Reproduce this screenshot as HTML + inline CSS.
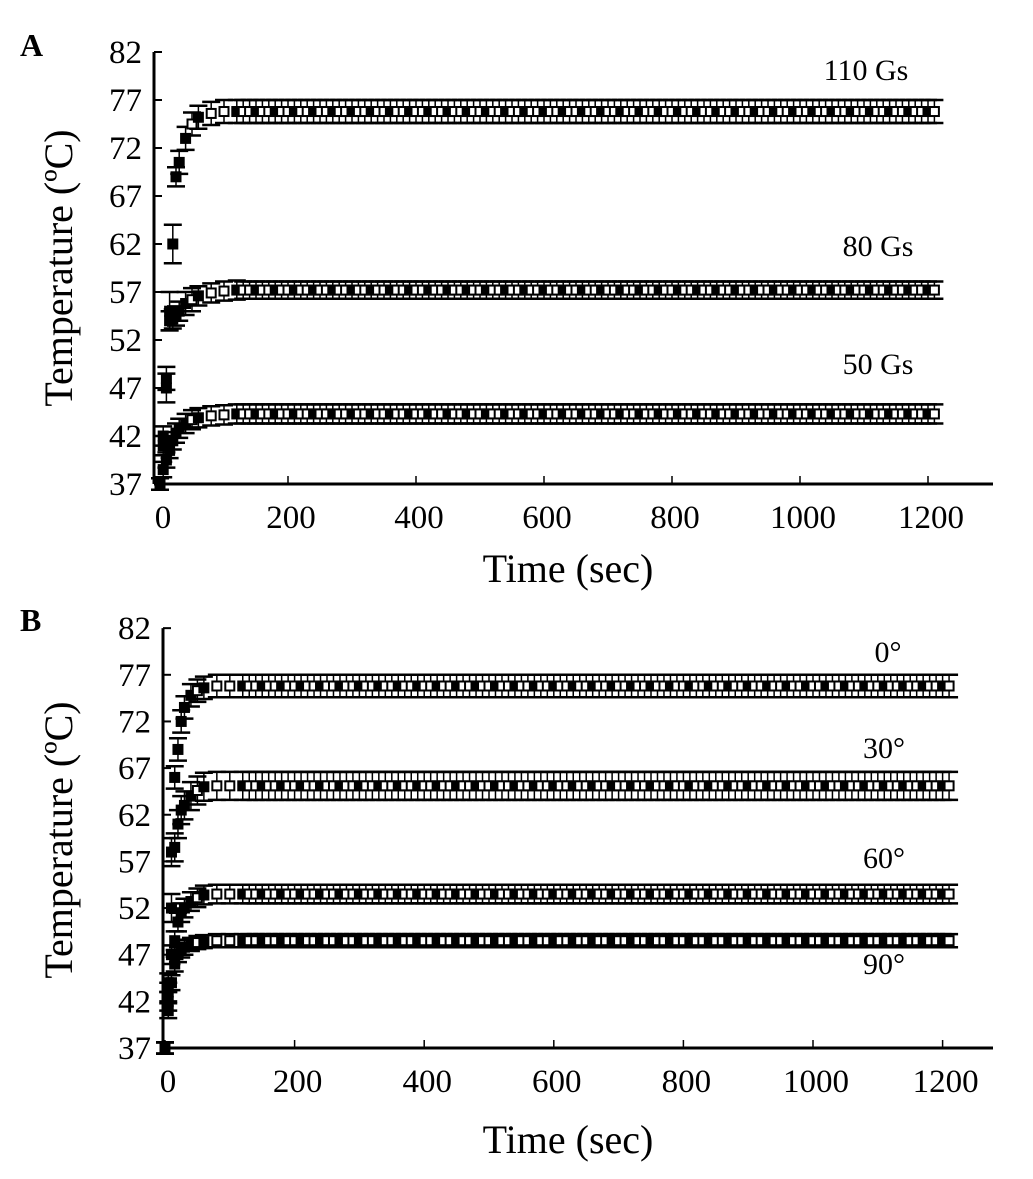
<!DOCTYPE html>
<html><head><meta charset="utf-8"><style>
body{margin:0;background:#fff;}
svg{display:block;font-family:"Liberation Serif",serif;}
</style></head><body>
<svg id="s" width="1033" height="1179" viewBox="0 0 1033 1179"></svg>
<script>
const NS="http://www.w3.org/2000/svg";
const svg=document.getElementById('s');
const T=[0,5,10,15,20,25,30,40,50,60,80,100,120];
for(let t=130;t<=1210;t+=10)T.push(t);
const P=T.length-13;
const yTicks=[37,42,47,52,57,62,67,72,77,82];
const xTicks=[0,200,400,600,800,1000,1200];
// Panel A
const a110=[37,41,47,55,62,69,70.5,73,74.5,75.2,75.6,75.8,75.8,...Array(P).fill(75.8)];
const a110e=[0.6,1,1.5,2,2,1,1.2,1.2,1.2,1.2,1.2,1.2,1.2,...Array(P).fill(1.2)];
const a80=[37,42,48,54,54.2,54.5,55,55.8,56.2,56.6,56.9,57.1,57.2,...Array(P).fill(57.2)];
const a80e=[0.6,1,1.2,1,1,1,1,1.2,1.2,1,1,1,1,...Array(P).fill(0.9)];
const a50=[37,38.5,39.5,40.5,41.5,42.3,42.8,43.3,43.7,43.9,44.1,44.2,44.3,...Array(P).fill(44.3)];
const a50e=[0.6,0.8,0.8,0.8,0.9,1,1,1,1,1,1,1,1,...Array(P).fill(1)];
// Panel B
const b0=[37,44,58,66,69,72,73.5,74.8,75.3,75.6,75.8,75.8,75.8,...Array(P).fill(75.8)];
const b0e=[0.6,1,1.5,1.2,1.2,1.2,1.2,1.2,1.2,1.2,1.2,1.2,1.2,...Array(P).fill(1.2)];
const b30=[37,43,52,58.5,61,62.5,63,64,64.6,65,65.1,65.1,65.1,...Array(P).fill(65.1)];
const b30e=[0.6,1,1.5,1.5,1.5,1.5,1.5,1.5,1.5,1.5,1.5,1.5,1.5,...Array(P).fill(1.5)];
const b60=[37,42,47,48.5,50.5,51.5,52,52.7,53.1,53.4,53.5,53.5,53.5,...Array(P).fill(53.5)];
const b60e=[0.6,1,1,1,1,1,1,1,1,1,1,1,1,...Array(P).fill(1)];
const b90=[37,41,44,46,47,47.5,47.8,48.1,48.3,48.4,48.5,48.5,48.5,...Array(P).fill(48.5)];
const b90e=[0.6,0.8,0.8,0.8,0.8,0.8,0.8,0.7,0.7,0.7,0.7,0.7,0.7,...Array(P).fill(0.7)];

function el(tag,attrs,parent,text){const e=document.createElementNS(NS,tag);for(const k in attrs)e.setAttribute(k,attrs[k]);if(text!==undefined)e.textContent=text;(parent||svg).appendChild(e);return e;}

function panel(o){
  const g=el('g',{});
  
  
  const X=t=>o.x0+t*o.xs, Y=v=>o.y0-(v-37)*o.ys;
  const lt=el('text',{x:o.lx,y:o.ly,'font-size':32,'font-weight':'bold'},g,o.letter);
  
  
  const ya=el('line',{x1:o.ax,y1:Y(82),x2:o.ax,y2:Y(37),stroke:'#000','stroke-width':3},g);
  
  
  const xa=el('line',{x1:o.ax,y1:Y(37),x2:993,y2:Y(37),stroke:'#000','stroke-width':3},g);
  
  
  yTicks.forEach(v=>{
    el('line',{x1:o.ax,y1:Y(v),x2:o.ax+8,y2:Y(v),stroke:'#000','stroke-width':2},g);
    const t=el('text',{x:o.ax-12,y:Y(v)+11,'font-size':33,'text-anchor':'end'},g,v);
    
    
  });
  xTicks.forEach(v=>{
    el('line',{x1:X(v),y1:Y(37),x2:X(v),y2:Y(37)-8,stroke:'#000','stroke-width':1.5},g);
    const t=el('text',{x:X(v)+3,y:Y(37)+44,'font-size':33,'text-anchor':'middle'},g,v);
    
    
  });
  const yt=el('text',{x:0,y:0,'font-size':40,'text-anchor':'middle',transform:`translate(${o.ytx},${o.yty}) rotate(-90)`},g,'Temperature (ºC)');
  
  
  const xt=el('text',{x:568,y:o.xty,'font-size':40,'text-anchor':'middle'},g,'Time (sec)');
  
  
  o.series.forEach(s=>{
    const sg=el('g',{},g);
    
    
    T.forEach((t,i)=>{
      const x=X(t),v=s.v[i],e=s.e[i];
      el('line',{x1:x,y1:Y(v+e),x2:x,y2:Y(v-e),stroke:'#000','stroke-width':1.5},sg);
      el('line',{x1:x-9,y1:Y(v+e),x2:x+9,y2:Y(v+e),stroke:'#000','stroke-width':2.5},sg);
      el('line',{x1:x-9,y1:Y(v-e),x2:x+9,y2:Y(v-e),stroke:'#000','stroke-width':2.5},sg);
      const m=el('rect',{x:x-4.5,y:Y(v)-4.5,width:9,height:9,fill:(i<8||i%3==0)?'#000':'#fff',stroke:'#000','stroke-width':2},sg);
      
      
    });
    const lb=el('text',{x:s.lx,y:s.ly,'font-size':30,'text-anchor':'middle'},g,s.label);
    
    
  });
}
panel({name:'panel-a',letter:'A',lx:20,ly:56,x0:160,xs:0.64,y0:484,ys:9.6,ax:154,ytx:72,yty:268,xty:582,
 series:[{key:'110gs',v:a110,e:a110e,label:'110 Gs',lx:866,ly:80},
         {key:'80gs',v:a80,e:a80e,label:'80 Gs',lx:878,ly:256},
         {key:'50gs',v:a50,e:a50e,label:'50 Gs',lx:878,ly:374}]});
panel({name:'panel-b',letter:'B',lx:20,ly:631,x0:165,xs:0.648,y0:1048,ys:9.33,ax:163,ytx:72,yty:840,xty:1153,
 series:[{key:'0deg',v:b0,e:b0e,label:'0°',lx:888,ly:662},
         {key:'30deg',v:b30,e:b30e,label:'30°',lx:884,ly:758},
         {key:'60deg',v:b60,e:b60e,label:'60°',lx:884,ly:868},
         {key:'90deg',v:b90,e:b90e,label:'90°',lx:884,ly:974}]});
</script>
</body></html>
